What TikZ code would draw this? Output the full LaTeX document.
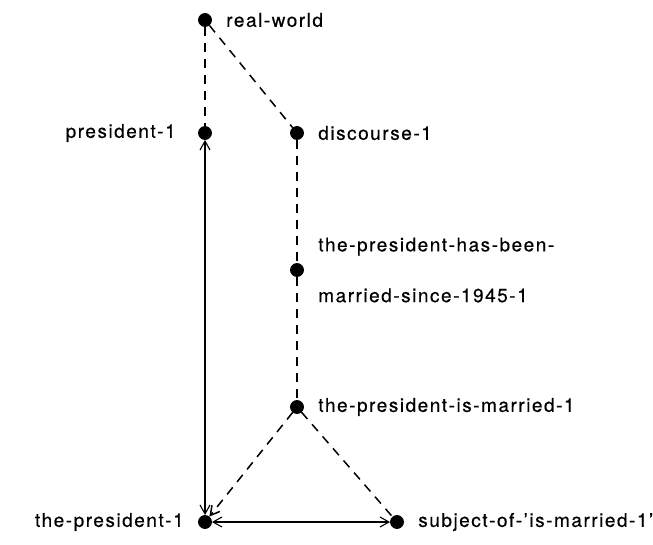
\documentclass[tikz,border=0pt]{standalone}
\usepackage{fontspec}
\setmainfont{TeX Gyre Heros}[LetterSpace=8, FakeBold=0.4]
\usetikzlibrary{arrows.meta}

\begin{document}
\begin{tikzpicture}[
    x=0.5pt, y=-0.5pt,
    >={Straight Barb[length=4.5pt,width=5pt]},
    dot/.style={circle, fill=black, draw=black, inner sep=0pt, minimum size=6.5pt},
    lbl/.style={font=\fontsize{9.5}{11.4}\selectfont, inner sep=1pt},
    link/.style={line width=0.75pt, dash pattern=on 4.5pt off 3.5pt},
    tie/.style={line width=0.55pt}
]
\useasboundingbox (0,0) rectangle (653,545);

% Discourse side on the right, referents on the left
\node[dot, label={[lbl, label distance=6pt]right:real-world}] (realworld) at (205,20) {};
\node[dot, label={[lbl, label distance=10pt]left:president-1}] (president) at (205,133) {};
\node[dot, label={[lbl, label distance=6pt]right:discourse-1}] (discourse) at (297,133) {};
\node[dot, label={[lbl, align=left, label distance=6pt]right:{the-president-has-been-\\[14pt]married-since-1945-1}}] (sincemarried) at (297,270) {};
\node[dot, label={[lbl, label distance=6pt]right:the-president-is-married-1}] (ismarried) at (297,407) {};
\node[dot, label={[lbl, label distance=6pt]left:the-president-1}] (thepresident) at (205,522) {};
\node[dot, label={[lbl, label distance=6pt]right:subject-of-'is-married-1'}] (subjectof) at (397,522) {};

\draw[link] (realworld) -- (president);
\draw[link] (realworld) -- (discourse);
\draw[link] (discourse) -- (sincemarried);
\draw[link] (sincemarried) -- (ismarried);
\draw[link, ->] (ismarried) -- (thepresident);
\draw[link] (ismarried) -- (subjectof);
\draw[tie, <->] (president) -- (thepresident);
\draw[tie, <->] (thepresident) -- (subjectof);
\end{tikzpicture}
\end{document}
